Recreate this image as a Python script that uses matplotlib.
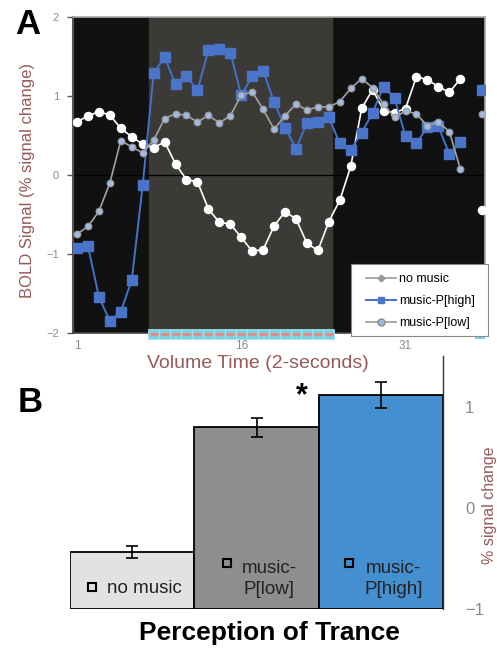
import numpy as np
import matplotlib
matplotlib.use('Agg')
import matplotlib.pyplot as plt
from matplotlib.lines import Line2D
from matplotlib.patches import Rectangle

plt.rcParams['font.family'] = ['Liberation Sans', 'DejaVu Sans']

# panel A: time course, volumes 1..38 (37 missing)
volumes = np.arange(1, 39)
no_music = [0.67, 0.75, 0.80, 0.76, 0.59, 0.485, 0.39, 0.345, 0.42, 0.14,
            -0.06, -0.085, -0.43, -0.60, -0.62, -0.79, -0.965, -0.945, -0.645, -0.465,
            -0.555, -0.865, -0.955, -0.59, -0.32, 0.11, 0.845, 1.08, 0.815, 0.79,
            0.84, 1.245, 1.205, 1.12, 1.045, 1.215, np.nan, -0.44]
p_high = [-0.92, -0.90, -1.54, -1.85, -1.73, -1.33, -0.13, 1.29, 1.49, 1.15,
          1.25, 1.07, 1.58, 1.60, 1.55, 1.01, 1.25, 1.32, 0.92, 0.60,
          0.33, 0.66, 0.67, 0.73, 0.40, 0.32, 0.535, 0.79, 1.12, 0.975,
          0.49, 0.40, 0.61, 0.615, 0.265, 0.415, np.nan, 1.08]
p_low = [-0.75, -0.65, -0.46, -0.10, 0.435, 0.355, 0.28, 0.44, 0.715, 0.775,
         0.755, 0.67, 0.755, 0.66, 0.75, 1.01, 1.055, 0.83, 0.58, 0.75,
         0.90, 0.82, 0.865, 0.86, 0.93, 1.095, 1.22, 1.105, 0.895, 0.73,
         0.81, 0.775, 0.62, 0.67, 0.55, 0.08, np.nan, 0.775]
music_on = (7.55, 24.25)
music_vols = np.arange(8, 25)
x_ticks = [1, 16, 31]
y_ticks = [-2, -1, 0, 1, 2]

# panel B: mean signal per condition
conditions = ['no music', 'music-\nP[low]', 'music-\nP[high]']
means = [-0.44, 0.795, 1.115]
errs = [0.06, 0.096, 0.133]
bar_colors = ['#e1e2e1', '#8e8e8e', '#438fd0']

label_col = '#965a5a'
tick_col = '#8a8a8a'

fig = plt.figure(figsize=(4.97, 6.48), dpi=100)

# ---------- A ----------
ax = fig.add_axes([73/497, 1-333/648, 412/497, 316/648])
ax.set_xlim(0.635, 38.26)
ax.set_ylim(-2, 2)
ax.set_facecolor('#111111')
ax.axvspan(music_on[0], music_on[1], color='#3c3a37', zorder=0)
ax.axhline(0, color='#000000', lw=0.9, zorder=1)

ax.plot(volumes, no_music, color='white', lw=1.2, marker='o', ms=5.8,
        mfc='white', mec='white', zorder=3)
ax.plot(volumes, p_high, color='#4172cc', lw=1.4, marker='s', ms=7.2,
        mfc='#4a74c9', mec='#4a74c9', zorder=4)
ax.plot(volumes, p_low, color='#a3a3a3', lw=1.2, marker='o', ms=4.8,
        mfc='#a2b9e2', mec='#9a9a9a', mew=0.8, zorder=5)

# music bar under the axis
ax.bar(music_vols, 0.13, width=1.0, bottom=-2.08, color='#7dd2df',
       edgecolor='#a6e2ea', lw=0.6, clip_on=False, zorder=6, align='center')
ax.plot(music_vols, np.full(len(music_vols), -2.015), ls='none', marker='_',
        ms=6, mew=2, color='#ee8585', clip_on=False, zorder=7)
ax.add_patch(Rectangle((37.35, -2.08), 38.26-37.35, 0.13, facecolor='#7dd2df',
                       edgecolor='none', clip_on=False, zorder=6))

ax.set_xticks(x_ticks)
ax.set_xticklabels([str(t) for t in x_ticks])
ax.set_yticks(y_ticks)
ax.set_yticklabels(['\u22122', '\u22121', '0', '1', '2'])
ax.tick_params(axis='x', length=0, pad=5, labelsize=8.5, labelcolor=tick_col)
ax.tick_params(axis='y', length=4, width=1, color='#555555', pad=6,
               labelsize=8, labelcolor=tick_col)
ax.spines['left'].set_color('#555555')
ax.spines['left'].set_linewidth(1.5)
ax.spines['bottom'].set_color('#444444')
ax.spines['bottom'].set_linewidth(1.2)
for s in ['top', 'right']:
    ax.spines[s].set_color('#aaaaaa')
    ax.spines[s].set_linewidth(1.2)

fig.text(28/497, 1-181/648, 'BOLD Signal (% signal change)', fontsize=12,
         color=label_col, rotation=90, ha='center', va='center')
fig.text(258/497, 1-363/648, 'Volume Time (2-seconds)', fontsize=14,
         color=label_col, ha='center', va='center')

# legend: frame drawn by hand, entries without frame
ax.add_patch(Rectangle(((351-73)/412, (333-336)/316), 137/412, 72/316,
                       transform=ax.transAxes, facecolor='white',
                       edgecolor='#888888', lw=0.8, clip_on=False, zorder=9))
handles = [
    Line2D([], [], color='#999999', lw=1.2, marker='D', ms=3.5, mfc='#999999', mec='#999999'),
    Line2D([], [], color='#4172cc', lw=1.4, marker='s', ms=5, mfc='#4a74c9', mec='#4a74c9'),
    Line2D([], [], color='#999999', lw=1.2, marker='o', ms=5, mfc='#a2b9e2', mec='#8a8a8a'),
]
leg = ax.legend(handles, ['no music', 'music-P[high]', 'music-P[low]'],
                loc='center left', bbox_to_anchor=((366-73)/412, (333-301)/316),
                fontsize=9, frameon=False, handlelength=2.4,
                handletextpad=0.25, labelspacing=0.8, borderpad=0,
                borderaxespad=0)
leg.set_zorder(10)

fig.text(28/497, 1-25/648, 'A', fontsize=25, fontweight='bold',
         ha='center', va='center')

# ---------- B ----------
bx = fig.add_axes([70/497, 1-609/648, 373/497, 253/648])
pos = np.arange(len(conditions))
bx.bar(pos, np.array(means) + 1, bottom=-1, width=1.0, color=bar_colors,
       edgecolor='black', lw=1.3, zorder=2)
bx.errorbar(pos, means, yerr=errs, fmt='none', ecolor='black', elinewidth=1.2,
            capsize=4, capthick=1.2, zorder=3)
bx.set_xlim(-0.5, 2.5)
bx.set_ylim(-1, 1.5)
bx.set_xticks([])
bx.yaxis.tick_right()
bx.set_yticks([-1, 0, 1])
bx.set_yticklabels(['\u22121', '0', '1'])
bx.tick_params(axis='y', length=0, pad=16, labelsize=12, labelcolor=tick_col)
for s in ['top', 'left', 'bottom']:
    bx.spines[s].set_visible(False)
bx.spines['right'].set_color('#333333')
bx.spines['right'].set_linewidth(1.0)

# labels inside the bars
txt_x = [0.10, 1.10, 2.10]
txt_y = [-0.795, -0.70, -0.70]
sq_x = [-0.32, 0.76, 1.745]
sq_y = [-0.78, -0.55, -0.55]
for i in range(len(conditions)):
    bx.text(txt_x[i], txt_y[i], conditions[i], fontsize=13.5, ha='center',
            va='center', linespacing=1.3, color='#222222', zorder=4)
    bx.plot(sq_x[i], sq_y[i], marker='s', ms=6, mfc='none', mec='black',
            mew=1.5, zorder=4)

bx.text(1.366, 1.1, '*', fontsize=22, fontweight='bold', ha='center',
        va='center')
bx.text(1.125, 0.41, '% signal change', transform=bx.transAxes, rotation=90,
        fontsize=11.5, color=label_col, ha='center', va='center')

fig.text(30/497, 1-402/648, 'B', fontsize=25, fontweight='bold',
         ha='center', va='center')
fig.text(269/497, 1-633/648, 'Perception of Trance', fontsize=19,
         fontweight='bold', ha='center', va='center')

fig.savefig('out.png', dpi=100)
